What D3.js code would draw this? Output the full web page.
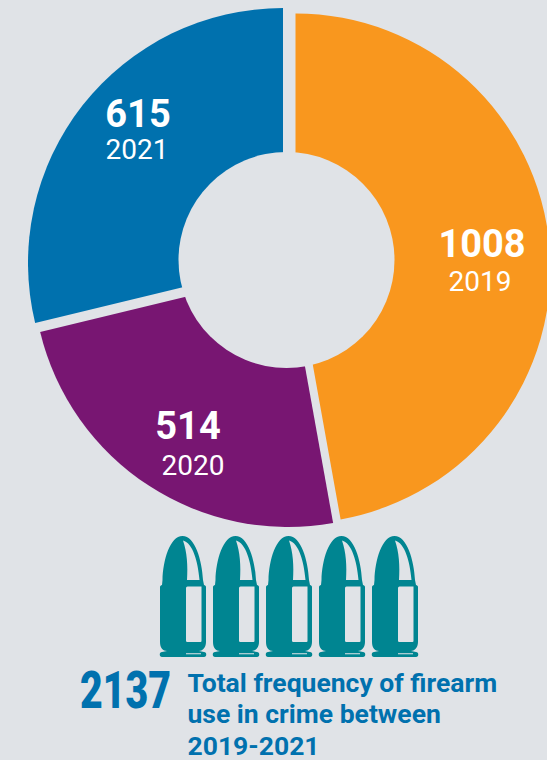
<!DOCTYPE html>
<html><head><meta charset="utf-8">
<script src="https://cdn.jsdelivr.net/npm/d3@7"></script>
<style>html,body{margin:0;padding:0;background:#e0e3e7;overflow:hidden}svg{display:block}text{font-family:Roboto,sans-serif}</style>
</head><body>
<script>
const years = ["2019", "2020", "2021"];
const frequency = [1008, 514, 615];
const sliceColors = ["#f9971e", "#781672", "#0071ae"];
const labelPositions = [[482, 257, 480, 291], [188, 439, 193, 475], [138, 127, 137, 159]];
const total = "2137";
const captionLines = ["Total frequency of firearm", "use in crime between", "2019-2021"];
const bulletColumns = [0, 1, 2, 3, 4];

const W = 547, H = 760, bg = "#e0e3e7", teal = "#008591", ink = "#0071ae";
const svg = d3.select("body").append("svg").attr("width", W).attr("height", H);
svg.append("rect").attr("width", W).attr("height", H).attr("fill", bg);

const pie = d3.pie().sort(null)(frequency);
const arc = d3.arc().innerRadius(0).outerRadius(255);
const centers = [[295.5, 268.5], [288, 272], [283, 263]];
svg.append("g").selectAll("path").data(pie).join("path")
  .attr("d", arc).attr("fill", (d, i) => sliceColors[i])
  .attr("transform", (d, i) => `translate(${centers[i][0]},${centers[i][1]})`);
svg.append("circle").attr("cx", 286.5).attr("cy", 260).attr("r", 108).attr("fill", bg);

const labels = svg.append("g").attr("fill", "#fff").attr("text-anchor", "middle");
frequency.forEach((v, i) => {
  const p = labelPositions[i];
  labels.append("text").attr("x", p[0]).attr("y", p[1]).attr("font-size", 38).attr("font-weight", 700).text(v);
  labels.append("text").attr("x", p[2]).attr("y", p[3]).attr("font-size", 28).attr("font-weight", 400).text(years[i]);
});

const x = d3.scalePoint().domain(bulletColumns).range([0, 212]);
const bullet = svg.append("g").attr("transform", "translate(160,536)");
const outer = "M2,49 L2.5,44 C3,24 10,0 22.5,0 C35,0 42,24 43,44 L44,49 C45,49 46,50 46,51 L46,106 C46,112 42,115 39,115 L44,116 C47,116 47,121 44,121 L2,121 C-1,121 -1,116 2,116 L7,115 C3,115 0,112 0,106 L0,51 C0,50 1,49 2,49 Z";
const upper = "M23,4.5 C33,7 38,26 39.5,44 L27,44 C28,30 27,16 23,4.5 Z";
const lower = "M27.5,50.5 L41.5,50.5 L41.5,105 Q41.5,106 40.5,106 L27.5,106 Q26,106 26,105 L26,52 Q26,50.5 27.5,50.5 Z";
const rim = "M26,117.3 L41,117.3 L41,118.3 L26,118.3 Z";
const b = bullet.selectAll("g").data(bulletColumns).join("g").attr("transform", d => `translate(${x(d)},0)`);
b.append("path").attr("d", outer).attr("fill", teal);
b.append("path").attr("d", upper + lower + rim).attr("fill", bg);

svg.append("text").attr("x", 80).attr("y", 708).attr("font-size", 51).attr("font-weight", 900)
  .attr("fill", ink).attr("textLength", 91).attr("lengthAdjust", "spacingAndGlyphs").text(total);
svg.append("g").selectAll("text").data(captionLines).join("text")
  .attr("x", 187.5).attr("y", (d, i) => 691.5 + i * 31.5).attr("font-size", 26.5).attr("font-weight", 700)
  .attr("fill", ink).text(d => d);
</script>
</body></html>
